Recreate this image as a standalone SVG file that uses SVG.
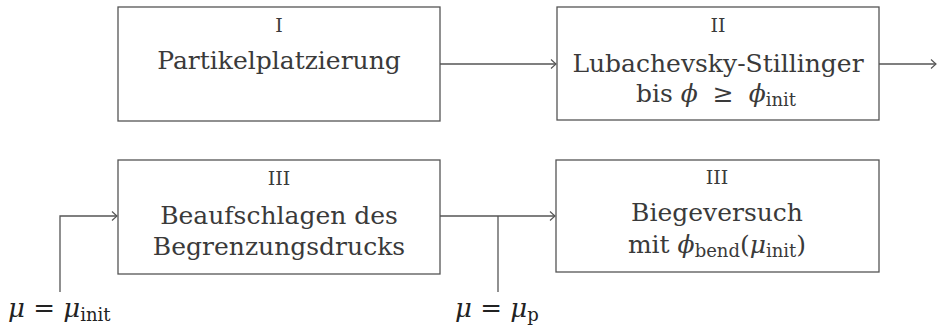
<svg xmlns="http://www.w3.org/2000/svg" width="939" height="328" viewBox="0 0 939 328">
<defs>
<marker id="arr" viewBox="-8 -6 10 12" markerWidth="10" markerHeight="12" refX="0" refY="0" orient="auto" markerUnits="userSpaceOnUse">
<path d="M -5 -4.5 Q -1.5 -1.2 0 0 Q -1.5 1.2 -5 4.5" fill="none" stroke="#555" stroke-width="1.1"/>
</marker>
<style>
.box{fill:#fff;stroke:#555;stroke-width:1.3}
.t{font-family:"DejaVu Serif","Liberation Serif",serif;font-size:25px;fill:#3a3a3a;text-anchor:middle}
.n{font-family:"DejaVu Serif","Liberation Serif",serif;font-size:19px;fill:#3a3a3a;text-anchor:middle}
.m{font-family:"DejaVu Serif","Liberation Serif",serif;font-size:26px;fill:#222}
.i{font-style:italic}
.s{font-size:18px}
.c{fill:none;stroke:#555;stroke-width:1.3}
</style>
</defs>
<rect width="939" height="328" fill="#fff"/>
<g id="n1">
<rect class="box" x="118" y="7" width="322" height="114"/>
<text class="n" x="279" y="32">I</text>
<text class="t" x="279" y="69">Partikelplatzierung</text>
</g>
<g id="n2">
<rect class="box" x="557" y="7" width="322" height="113"/>
<text class="n" x="718" y="32">II</text>
<text class="t" x="718" y="72">Lubachevsky-Stillinger</text>
<text class="t" x="716" y="102">bis <tspan class="i">ϕ</tspan><tspan dx="15">≥</tspan><tspan class="i" dx="15">ϕ</tspan><tspan class="s" dy="4">init</tspan></text>
</g>
<g id="n3">
<rect class="box" x="118" y="160" width="322" height="114"/>
<text class="n" x="279" y="185">III</text>
<text class="t" x="279" y="224">Beaufschlagen des</text>
<text class="t" x="279" y="255">Begrenzungsdrucks</text>
</g>
<g id="n4">
<rect class="box" x="556" y="160" width="323" height="112"/>
<text class="n" x="717" y="184">III</text>
<text class="t" x="717" y="221">Biegeversuch</text>
<text class="t" x="717" y="253">mit <tspan class="i">ϕ</tspan><tspan class="s" dy="4">bend</tspan><tspan dy="-4">(</tspan><tspan class="i">μ</tspan><tspan class="s" dy="4">init</tspan><tspan dy="-4">)</tspan></text>
</g>
<g id="connectors">
<path class="c" d="M440 64 H556" marker-end="url(#arr)"/>
<path class="c" d="M879 64 H936" marker-end="url(#arr)"/>
<path class="c" d="M60 292 V216 H117" marker-end="url(#arr)"/>
<path class="c" d="M440 216 H555" marker-end="url(#arr)"/>
<path class="c" d="M498 216 V292"/>
</g>
<g id="labels">
<text class="m" x="8" y="317"><tspan class="i">μ</tspan> = <tspan class="i">μ</tspan><tspan class="s" dy="4">init</tspan></text>
<text class="m" x="455" y="317"><tspan class="i">μ</tspan> = <tspan class="i">μ</tspan><tspan class="s" dy="4">p</tspan></text>
</g>
</svg>
